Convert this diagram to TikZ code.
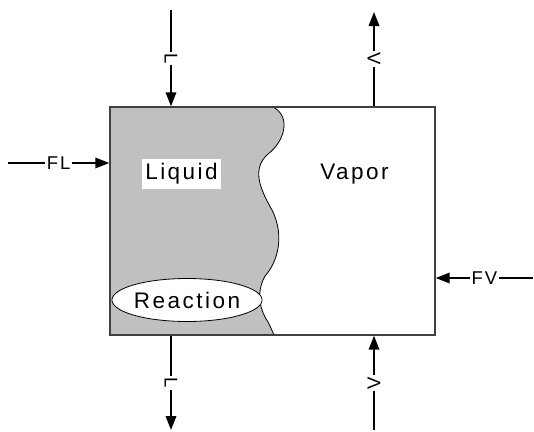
\documentclass[tikz,border=0pt]{standalone}
\usepackage{fontspec}
\setmainfont{Liberation Sans}[LetterSpace=11]
\usetikzlibrary{arrows.meta,shapes.geometric}
\definecolor{liq}{HTML}{C0C0C0}
\definecolor{frame}{HTML}{404040}
\tikzset{
  arr/.style={line width=1.8pt, -{Triangle[length=14pt,width=10.5pt]}},
  flowlab/.style={fill=white, inner sep=1.5pt, font=\fontsize{18.5}{22}\selectfont},
  bigtext/.style={font=\fontsize{22.5}{26}\selectfont},
  vessel/.style={draw=frame, line width=1.4pt, inner sep=0pt}
}
\begin{document}
\begin{tikzpicture}[x=1pt,y=-1pt]
\useasboundingbox (0,0) rectangle (534,431);
% liquid region
\fill[liq] (110,107) -- (273,107)
  .. controls (292,117) and (284,142) .. (268,154)
  .. controls (250,170) and (262,192) .. (272,210)
  .. controls (286,238) and (276,264) .. (265,276)
  .. controls (255,294) and (261,312) .. (268,322)
  .. controls (272,330) and (273,333) .. (274,335)
  -- (110,335) -- cycle;
\draw[line width=0.8pt] (273,107)
  .. controls (292,117) and (284,142) .. (268,154)
  .. controls (250,170) and (262,192) .. (272,210)
  .. controls (286,238) and (276,264) .. (265,276)
  .. controls (255,294) and (261,312) .. (268,322)
  .. controls (272,330) and (273,333) .. (274,335);
% vessel
\node[vessel, minimum width=325pt, minimum height=228pt] (box) at (272.5,221) {};
% texts
\node[bigtext, fill=white, minimum width=79pt, minimum height=30pt, inner sep=0pt] (liquid) at (181.5,174) {Liquid};
\node[bigtext] (vapor) at (354.5,174) {Vapor};
\node[bigtext, draw, line width=0.8pt, fill=white, ellipse, minimum width=148pt, minimum height=43pt, inner sep=0pt] (reaction) at (187,300) {Reaction};
% free ends
\coordinate (tl) at (171,10);
\coordinate (tr) at (374,12);
\coordinate (bl) at (171,430);
\coordinate (br) at (374,430);
\coordinate (fl) at (8,163);
\coordinate (fv) at (533,278);
% flows
\draw[arr] (tl) -- node[flowlab, rotate=-90] {L} (tl |- box.north);
\draw[arr] (tr |- box.north) -- node[flowlab, rotate=-90] {V} (tr);
\draw[arr] (bl |- box.south) -- node[flowlab, rotate=-90] {L} (bl);
\draw[arr] (br) -- node[flowlab, rotate=90] {V} (br |- box.south);
\draw[arr] (fl) -- node[flowlab] {FL} (fl -| box.west);
\draw[arr] (fv) -- node[flowlab] {FV} (fv -| box.east);
\end{tikzpicture}
\end{document}
